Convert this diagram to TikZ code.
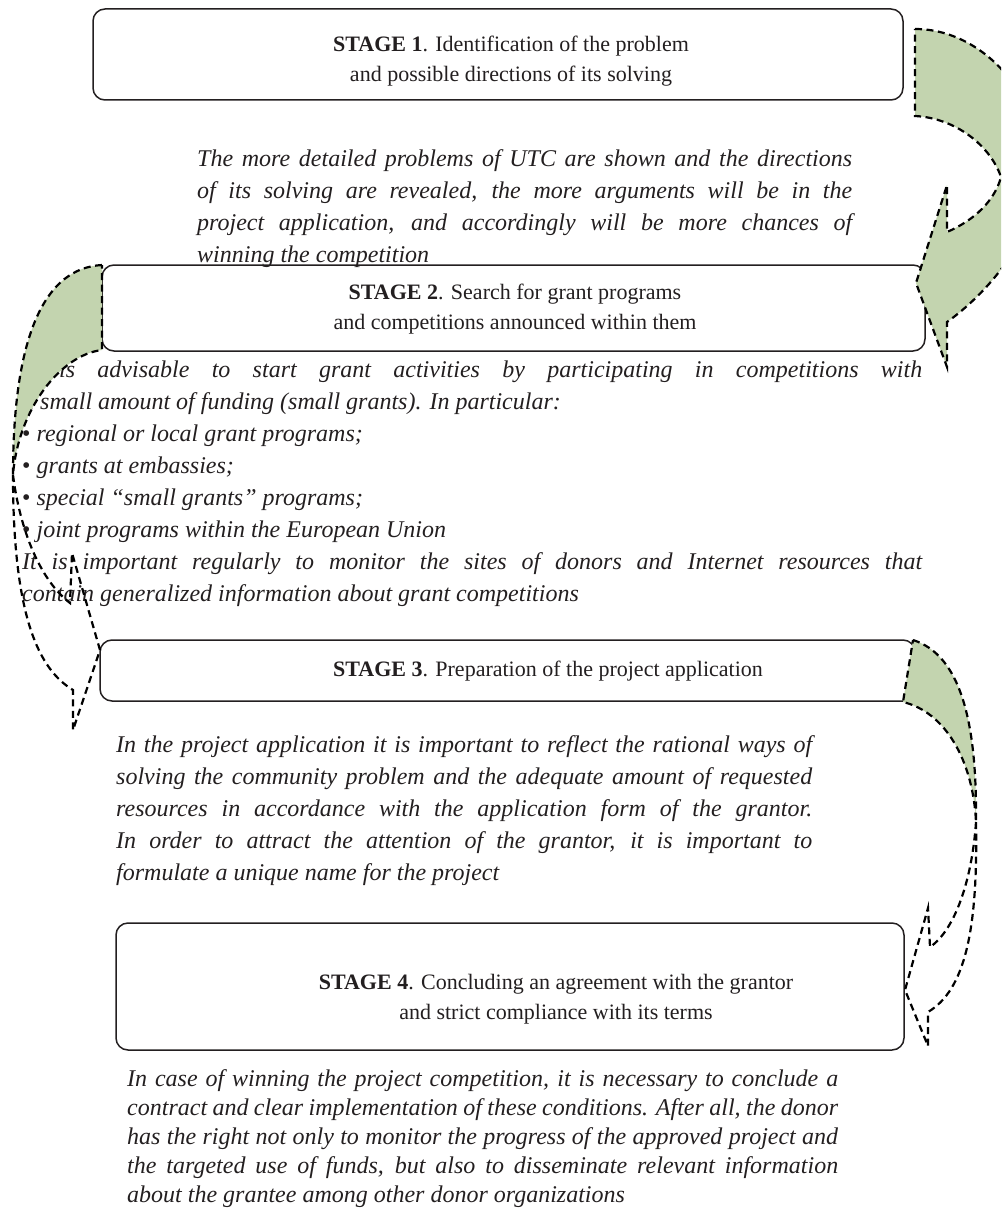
\documentclass[tikz,border=0pt]{standalone}
\usepackage{fontspec}
\setmainfont{Liberation Serif}
\definecolor{arrowgreen}{RGB}{195,212,175}
\definecolor{ink}{RGB}{35,31,32}
\newcommand\jline[1]{\hbox to \linewidth{#1}}
\newcommand\fline[1]{\hbox{#1}}
\newcommand\bul{{\upshape\textbullet}}
\tikzset{
  stagebox/.style={draw=ink, line width=1.5pt, rounded corners=12pt, fill=white, inner sep=0pt},
  stagetext/.style={text=ink, align=center, font=\fontsize{22}{30}\selectfont, inner sep=0pt},
  note/.style={text=ink, inner sep=0pt, anchor=base west, font=\fontsize{24}{32}\selectfont\itshape},
  flow/.style={draw=black, line width=2.2pt, dash pattern=on 7pt off 4.5pt, line join=miter},
  flowfill/.style={flow, fill=arrowgreen},
}
\begin{document}
\begin{tikzpicture}[x=1pt, y=-1pt]
\useasboundingbox (0,0) rectangle (1001,1209);

% boxes
\node[stagebox, minimum width=810pt, minimum height=91pt] (b1) at (498,54.5) {};
\node[stagebox, minimum width=823pt, minimum height=86pt] (b2) at (513.5,308) {};
\node[stagebox, minimum width=815pt, minimum height=61pt] (b3) at (507.5,670.5) {};
\node[stagebox, minimum width=788pt, minimum height=127pt] (b4) at (510,986.5) {};

% stage texts
\node[stagetext] (s1) at (511,61) {\textbf{STAGE 1}. Identification of the problem\\and possible directions of its solving};
\node[stagetext] (s2) at (515,309) {\textbf{STAGE 2}. Search for grant programs\\and competitions announced within them};
\node[stagetext] (s3) at (548,671) {\textbf{STAGE 3}. Preparation of the project application};
\node[stagetext] (s4) at (556,999) {\textbf{STAGE 4}. Concluding an agreement with the grantor\\and strict compliance with its terms};

% notes
\node[note] (n1) at (197,167) {\begin{minipage}[t]{655pt}
\jline{The more detailed problems of UTC are shown and the directions}
\jline{of its solving are revealed, the more arguments will be in the}
\jline{project application, and accordingly will be more chances of}
\fline{winning the competition}
\end{minipage}};

\node[note] (n2) at (22,377) {\begin{minipage}[t]{900pt}
\jline{It is advisable to start grant activities by participating in competitions with}
\fline{a small amount of funding (small grants). In particular:}
\fline{\bul{} regional or local grant programs;}
\fline{\bul{} grants at embassies;}
\fline{\bul{} special “small grants” programs;}
\fline{\bul{} joint programs within the European Union}
\jline{It is important regularly to monitor the sites of donors and Internet resources that}
\fline{contain generalized information about grant competitions}
\end{minipage}};

\node[note] (n3) at (116,752) {\begin{minipage}[t]{696pt}
\jline{In the project application it is important to reflect the rational ways of}
\jline{solving the community problem and the adequate amount of requested}
\jline{resources in accordance with the application form of the grantor.}
\jline{In order to attract the attention of the grantor, it is important to}
\fline{formulate a unique name for the project}
\end{minipage}};

\node[note, font=\fontsize{24}{29}\selectfont\itshape] (n4) at (127,1086) {\begin{minipage}[t]{711pt}
\jline{In case of winning the project competition, it is necessary to conclude a}
\jline{contract and clear implementation of these conditions. After all, the donor}
\jline{has the right not only to monitor the progress of the approved project and}
\jline{the targeted use of funds, but also to disseminate relevant information}
\fline{about the grantee among other donor organizations}
\end{minipage}};

% curved arrows
\begin{scope}
\clip (0,0) rectangle (1001,1209);
% arrow 1: stage 1 -> stage 2 (right)
\draw[flowfill] (915,29) .. controls (985,29) and (1045,100) .. (1040,175)
  .. controls (1035,240) and (985,295) .. (947,322)
  -- (947,367) -- (916,283) -- (947,185) -- (947,232)
  .. controls (975,220) and (995,200) .. (1001,177)
  .. controls (990,145) and (955,118) .. (915,116) -- cycle;

% arrow 2: stage 2 -> stage 3 (left)
\draw[flowfill] (102,265) .. controls (45,268) and (13,335) .. (13,475)
  .. controls (18,410) and (60,355) .. (102,350) -- cycle;
\draw[flow] (13,475) .. controls (20,530) and (40,580) .. (70,603)
  -- (72,553) -- (100,650) -- (73,730) -- (73,690)
  .. controls (40,670) and (13,620) .. (13,475);

% arrow 3: stage 3 -> stage 4 (right)
\draw[flowfill] (913,640) .. controls (960,655) and (977,720) .. (976,822)
  .. controls (973,760) and (945,712) .. (903,702) -- cycle;
\draw[flow] (976,822) .. controls (972,880) and (955,930) .. (930,947)
  -- (928,908) -- (905,990) -- (928,1046) -- (928,1012)
  .. controls (965,990) and (978,930) .. (976,822);
\end{scope}
\end{tikzpicture}
\end{document}
